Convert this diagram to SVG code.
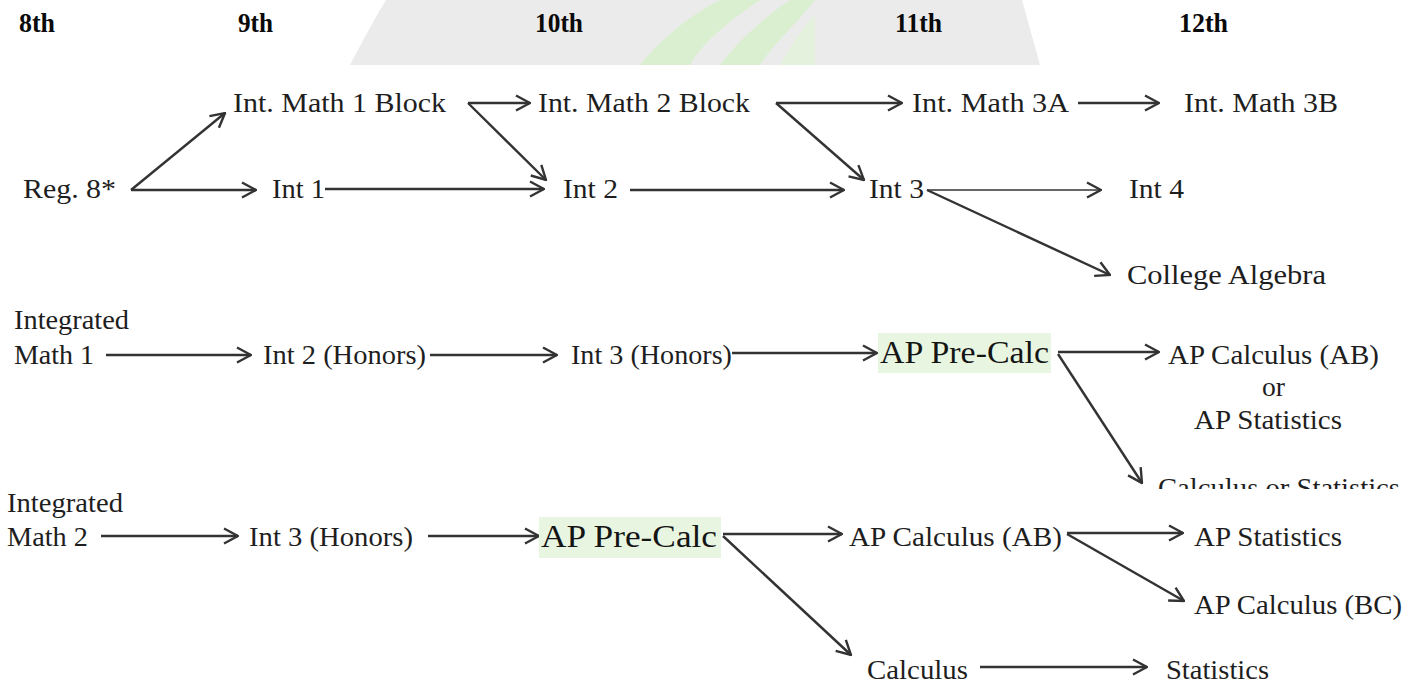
<svg xmlns="http://www.w3.org/2000/svg" width="1419" height="684" viewBox="0 0 1419 684">
<defs>
<style>
.t{font-family:"Liberation Serif","Times New Roman",serif;font-size:28px;fill:#1e1e1e}
.h{font-family:"Liberation Serif","Times New Roman",serif;font-size:27px;font-weight:bold;fill:#0a0a0a}
.p{font-family:"Liberation Serif","Times New Roman",serif;font-size:31px;fill:#141414}
.c{fill:none;stroke:#333;stroke-width:2.4;marker-end:url(#ah)}
.thin{stroke-width:1.4}
.hl{fill:#e8f5e0}
</style>
<marker id="ah" viewBox="0 0 16 18" refX="15" refY="9" markerWidth="16" markerHeight="18" markerUnits="userSpaceOnUse" orient="auto">
<path d="M1,1.5 L15,9 L1,16.5" fill="none" stroke="#333" stroke-width="2.4"/>
</marker>
<clipPath id="cut"><rect x="1100" y="440" width="319" height="49"/></clipPath>
</defs>
<rect width="1419" height="684" fill="#fff"/>
<g id="watermark">
<path d="M350,65 C362,42 375,18 386,0 L1022,0 L1040,65 Z" fill="#e6e6e6" opacity="0.8"/>
<path d="M640,65 C660,40 690,15 720,0 L760,0 C730,20 700,45 690,65 Z" fill="#d8efcd" opacity="0.9"/>
<path d="M720,65 C735,45 760,20 790,0 L815,0 C795,25 770,48 760,65 Z" fill="#d8efcd" opacity="0.9"/>
<path d="M780,65 C790,48 800,30 815,15 L815,65 Z" fill="#e3f3db" opacity="0.9"/>
</g>
<g id="connectors">
<line class="c" x1="468" y1="103" x2="530" y2="103"/>
<line class="c" x1="468" y1="103" x2="546" y2="180"/>
<line class="c" x1="776" y1="103" x2="902" y2="103"/>
<line class="c" x1="776" y1="103" x2="864" y2="180"/>
<line class="c" x1="1078" y1="103" x2="1159" y2="103"/>
<line class="c" x1="131" y1="190" x2="225" y2="113"/>
<line class="c" x1="131" y1="190" x2="256" y2="190"/>
<line class="c" x1="325" y1="189" x2="544" y2="189"/>
<line class="c" x1="630" y1="190" x2="844" y2="190"/>
<line class="c thin" x1="927" y1="190" x2="1101" y2="190"/>
<line class="c" x1="927" y1="190" x2="1110" y2="275"/>
<line class="c" x1="106" y1="355" x2="251" y2="355"/>
<line class="c" x1="430" y1="355" x2="557" y2="355"/>
<line class="c" x1="732" y1="353" x2="877" y2="353"/>
<line class="c" x1="1058" y1="352" x2="1159" y2="352"/>
<line class="c" x1="1058" y1="354" x2="1142" y2="483"/>
<line class="c" x1="101" y1="536" x2="238" y2="536"/>
<line class="c" x1="428" y1="536" x2="539" y2="536"/>
<line class="c" x1="723" y1="534" x2="842" y2="534"/>
<line class="c" x1="723" y1="536" x2="851" y2="655"/>
<line class="c" x1="1067" y1="533" x2="1183" y2="533"/>
<line class="c" x1="1067" y1="534" x2="1184" y2="601"/>
<line class="c" x1="980" y1="667" x2="1147" y2="667"/>
</g>
<g id="headers">
<text class="h" x="19" y="32" textLength="36" lengthAdjust="spacingAndGlyphs">8th</text>
<text class="h" x="238" y="32" textLength="35" lengthAdjust="spacingAndGlyphs">9th</text>
<text class="h" x="535" y="32" textLength="48" lengthAdjust="spacingAndGlyphs">10th</text>
<text class="h" x="895" y="32" textLength="47" lengthAdjust="spacingAndGlyphs">11th</text>
<text class="h" x="1179" y="32" textLength="49" lengthAdjust="spacingAndGlyphs">12th</text>
</g>
<g id="n-int-math1-block"><text class="t" x="233" y="112" textLength="213" lengthAdjust="spacingAndGlyphs">Int. Math 1 Block</text></g>
<g id="n-int-math2-block"><text class="t" x="538" y="112" textLength="212" lengthAdjust="spacingAndGlyphs">Int. Math 2 Block</text></g>
<g id="n-int-math3a"><text class="t" x="912" y="112" textLength="157" lengthAdjust="spacingAndGlyphs">Int. Math 3A</text></g>
<g id="n-int-math3b"><text class="t" x="1184" y="112" textLength="154" lengthAdjust="spacingAndGlyphs">Int. Math 3B</text></g>
<g id="n-reg8"><text class="t" x="23" y="198" textLength="93" lengthAdjust="spacingAndGlyphs">Reg. 8*</text></g>
<g id="n-int1"><text class="t" x="272" y="198" textLength="53" lengthAdjust="spacingAndGlyphs">Int 1</text></g>
<g id="n-int2"><text class="t" x="563" y="198" textLength="55" lengthAdjust="spacingAndGlyphs">Int 2</text></g>
<g id="n-int3"><text class="t" x="869" y="198" textLength="55" lengthAdjust="spacingAndGlyphs">Int 3</text></g>
<g id="n-int4"><text class="t" x="1129" y="198" textLength="55" lengthAdjust="spacingAndGlyphs">Int 4</text></g>
<g id="n-college-algebra"><text class="t" x="1127" y="284" textLength="199" lengthAdjust="spacingAndGlyphs">College Algebra</text></g>
<g id="n-integrated-math1">
<text class="t" x="14" y="329" textLength="115" lengthAdjust="spacingAndGlyphs">Integrated</text>
<text class="t" x="14" y="364" textLength="80" lengthAdjust="spacingAndGlyphs">Math 1</text>
</g>
<g id="n-int2-honors"><text class="t" x="263" y="364" textLength="163" lengthAdjust="spacingAndGlyphs">Int 2 (Honors)</text></g>
<g id="n-int3-honors-a"><text class="t" x="571" y="364" textLength="161" lengthAdjust="spacingAndGlyphs">Int 3 (Honors)</text></g>
<g id="n-ap-precalc-a">
<rect class="hl" x="878" y="333" width="173" height="40"/>
<text class="p" x="880" y="363" textLength="169" lengthAdjust="spacingAndGlyphs">AP Pre-Calc</text>
</g>
<g id="n-apcalc-or-apstat">
<text class="t" x="1168" y="364" textLength="211" lengthAdjust="spacingAndGlyphs">AP Calculus (AB)</text>
<text class="t" x="1262" y="396" textLength="23" lengthAdjust="spacingAndGlyphs">or</text>
<text class="t" x="1194" y="429" textLength="148" lengthAdjust="spacingAndGlyphs">AP Statistics</text>
</g>
<g id="n-calc-or-stat"><text class="t" x="1158" y="497" textLength="242" lengthAdjust="spacingAndGlyphs" clip-path="url(#cut)">Calculus or Statistics</text></g>
<g id="n-integrated-math2">
<text class="t" x="7" y="512" textLength="116" lengthAdjust="spacingAndGlyphs">Integrated</text>
<text class="t" x="7" y="546" textLength="81" lengthAdjust="spacingAndGlyphs">Math 2</text>
</g>
<g id="n-int3-honors-b"><text class="t" x="249" y="546" textLength="164" lengthAdjust="spacingAndGlyphs">Int 3 (Honors)</text></g>
<g id="n-ap-precalc-b">
<rect class="hl" x="539" y="517" width="182" height="41"/>
<text class="p" x="541" y="547" textLength="176" lengthAdjust="spacingAndGlyphs">AP Pre-Calc</text>
</g>
<g id="n-ap-calc-ab"><text class="t" x="849" y="546" textLength="213" lengthAdjust="spacingAndGlyphs">AP Calculus (AB)</text></g>
<g id="n-ap-stat"><text class="t" x="1194" y="546" textLength="148" lengthAdjust="spacingAndGlyphs">AP Statistics</text></g>
<g id="n-ap-calc-bc"><text class="t" x="1194" y="614" textLength="208" lengthAdjust="spacingAndGlyphs">AP Calculus (BC)</text></g>
<g id="n-calculus"><text class="t" x="867" y="679" textLength="101" lengthAdjust="spacingAndGlyphs">Calculus</text></g>
<g id="n-statistics"><text class="t" x="1166" y="679" textLength="103" lengthAdjust="spacingAndGlyphs">Statistics</text></g>
</svg>
